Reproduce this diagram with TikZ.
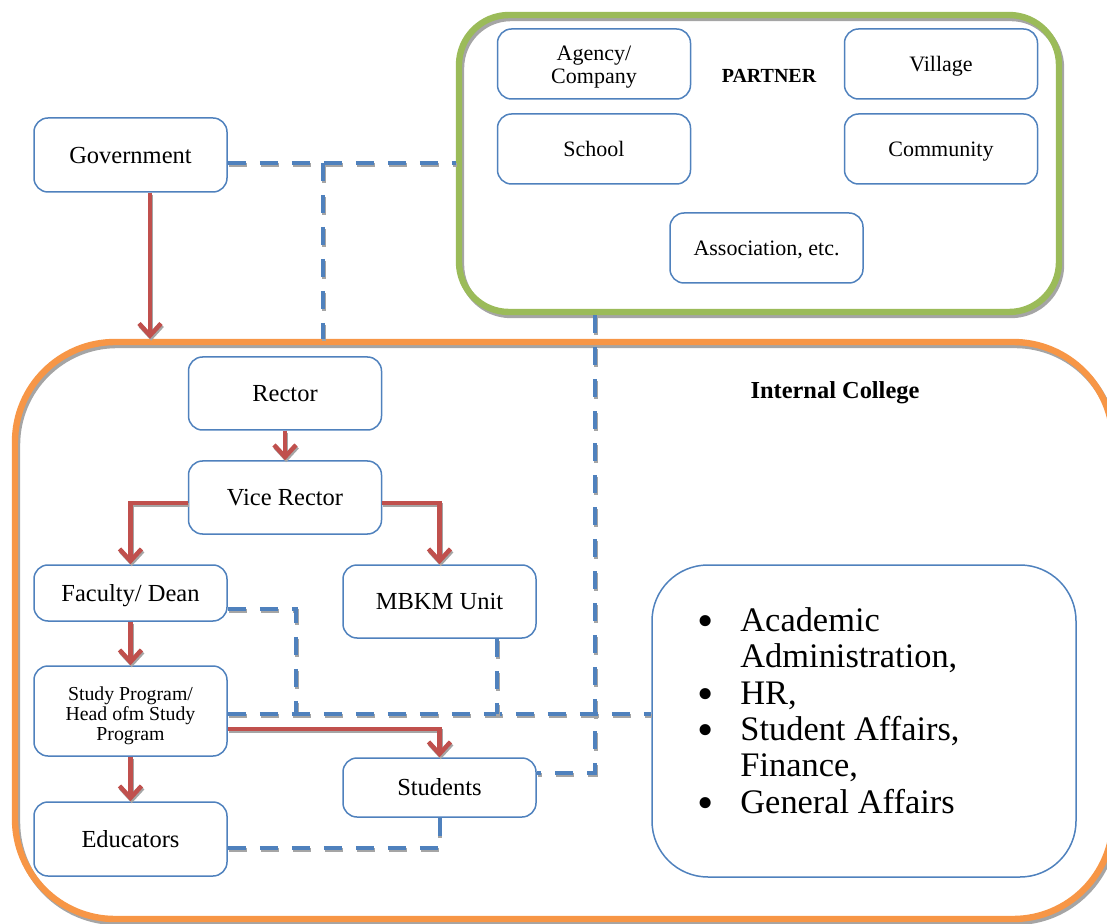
\documentclass[tikz,border=0pt]{standalone}
\usepackage{fontspec}
\setmainfont{Liberation Serif}
\usetikzlibrary{arrows.meta,calc}
\definecolor{boxblue}{HTML}{4F81BD}
\definecolor{redline}{HTML}{C0504D}
\definecolor{greenframe}{HTML}{9BBB59}
\definecolor{orangeframe}{HTML}{F79646}
\definecolor{shadowgray}{HTML}{A5A5A5}
\newcommand{\bigbul}{\raisebox{-0.14em}{\scalebox{1.35}{\textbullet}}}
\begin{document}
\begin{tikzpicture}[x=0.5pt,y=-0.5pt,
  box/.style={draw=boxblue, line width=0.75pt, rounded corners=7pt, fill=white,
    minimum width=96.5pt, inner sep=2pt, align=center, font=\fontsize{12.25}{14}\selectfont},
  one/.style={text height=8.6pt, text depth=0.5pt},
  pbox/.style={box, minimum height=35pt, font=\fontsize{11}{11.6}\selectfont},
  pone/.style={text height=7.7pt, text depth=0.45pt},
  frame/.style={line width=3.2pt, inner sep=0pt,
    preaction={draw=shadowgray, line width=3.2pt, transform canvas={shift={(1pt,-1.5pt)}}}},
  dashline/.style={draw=boxblue, line width=2pt, dash pattern=on 9pt off 7pt,
    preaction={draw=shadowgray, line width=2pt, dash pattern=on 9pt off 7pt,
      transform canvas={shift={(0.4pt,-1.1pt)}}}},
  redarrow/.style={draw=redline, line width=2.25pt,
    -{Straight Barb[length=6pt,width=11pt]},
    preaction={draw=shadowgray, line width=2.25pt, -{Straight Barb[length=6pt,width=11pt]},
      transform canvas={shift={(0.6pt,-1pt)}}}},
  lbl/.style={inner sep=0pt, font=\bfseries}
]
\useasboundingbox (0,0) rectangle (1107,924);
\clip (0,0) rectangle (1107,924);

% frames
\node[frame, draw=greenframe, rounded corners=25pt, minimum width=300pt, minimum height=148.5pt] (partner) at (759,163.5) {};
\node[frame, draw=orangeframe, rounded corners=50pt, minimum width=549pt, minimum height=288.5pt] (internal) at (564,630.5) {};

\node[lbl, font=\bfseries\fontsize{10}{12}\selectfont] (partnerlbl) at (769,76) {PARTNER};
\node[lbl, font=\bfseries\fontsize{12.2}{14}\selectfont] (iclbl) at (835,393) {Internal College};

% partner boxes
\node[pbox] (agency) at (594,64) {\rule{0pt}{10.6pt}Agency/\\Company};
\node[pbox, pone] (village) at (941,64) {Village};
\node[pbox, pone] (school) at (594,149) {School};
\node[pbox, pone] (community) at (941,149) {Community};
\node[pbox, pone] (assoc) at (766.5,248) {Association, etc.};

% main boxes
\node[box, one, minimum height=37pt] (gov) at (130.5,155) {Government};
\node[box, one, minimum height=36.5pt] (rector) at (285,393.5) {Rector};
\node[box, one, minimum height=36.5pt] (vice) at (285,497.5) {Vice Rector};
\node[box, one, minimum height=28pt] (faculty) at (130.5,593) {Faculty/ Dean};
\node[box, one, minimum height=36.5pt] (mbkm) at (439.5,601.5) {MBKM Unit};
\node[box, minimum height=45pt, font=\fontsize{9.9}{10}\selectfont] (study) at (130.5,711) {\rule{0pt}{12pt}Study Program/\\Head ofm Study\\Program};
\node[box, one, minimum height=29.5pt] (students) at (439.5,787.5) {Students};
\node[box, one, minimum height=37pt] (educators) at (130.5,839) {Educators};

% list box
\node[draw=boxblue, line width=0.75pt, rounded corners=28pt, minimum width=212pt, minimum height=156pt] (list) at (864,721) {};
\node[anchor=north west, inner sep=0pt, font=\fontsize{17.2}{18.2}\selectfont] (listtext) at (697,605.5)
 {\begin{tabular}{@{}p{21.5pt}@{}l@{}}
  \bigbul & Academic\\
   & Administration,\\
  \bigbul & HR,\\
  \bigbul & Student Affairs,\\
   & Finance,\\
  \bigbul & General Affairs
 \end{tabular}};

% helper coordinates
\coordinate (gy) at ([yshift=-4pt]gov.east);
\coordinate (gb) at (323,163);
\coordinate (pb) at ([xshift=-82pt]partner.south);
\coordinate (se) at ([yshift=7.25pt]students.east);
\coordinate (fe) at ([yshift=-8pt]faculty.east);
\coordinate (fx) at (296,714);
\coordinate (sd) at ([yshift=-1.5pt]study.east);
\coordinate (mb) at ([xshift=28.75pt]mbkm.south);
\coordinate (ee) at ([yshift=-4.5pt]educators.east);
\coordinate (gs) at ([xshift=9.75pt]gov.south);
\coordinate (vw) at ([yshift=-2.75pt]vice.west);
\coordinate (ve) at ([yshift=-2.75pt]vice.east);
\coordinate (sr) at ([yshift=-9pt]study.east);

% dashed connectors
\draw[dashline] (gy) -- (gy -| partner.west);
\draw[dashline] (gb) -- (gb |- internal.north);
\draw[dashline] (pb) |- (se);
\draw[dashline] (fe) -| (fx);
\draw[dashline] (sd) -- (sd -| list.west);
\draw[dashline] (mb) -- (mb |- sd);
\draw[dashline] (ee) -| (students.south);

% red arrows
\draw[redarrow] (gs) -- (gs |- internal.north);
\draw[redarrow] (rector) -- (vice);
\draw[redarrow] (vw) -| (faculty.north);
\draw[redarrow] (ve) -| (mbkm.north);
\draw[redarrow] (faculty) -- (study);
\draw[redarrow] (study) -- (educators);
\draw[redarrow] (sr) -| (students.north);
\end{tikzpicture}
\end{document}
